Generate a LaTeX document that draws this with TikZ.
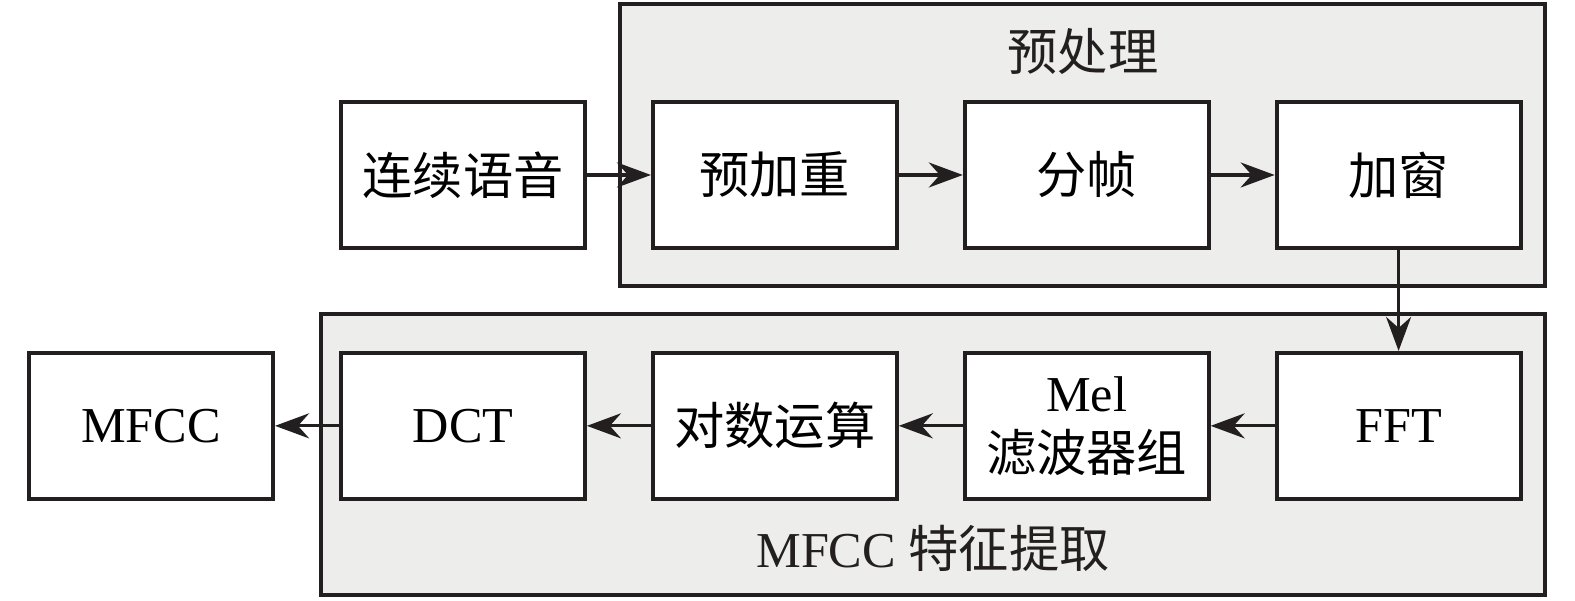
\documentclass[tikz,border=0pt]{standalone}
\usepackage{fontspec}
\usepackage{xcolor}
\setmainfont{Liberation Serif}
\newfontfamily\cjk{Noto Sans CJK SC}
\usetikzlibrary{positioning,arrows.meta}
\definecolor{bggray}{RGB}{237,237,235}
\definecolor{ink}{RGB}{35,31,32}

\begin{document}
\begin{tikzpicture}[
	box/.style={draw=ink, line width=1.1pt, fill=white, minimum width=2.44cm, minimum height=1.46cm, inner sep=0pt, align=center, font=\fontsize{14.3}{17}\selectfont},
	grp/.style={draw=ink, line width=1.1pt, fill=bggray},
	lbl/.style={font=\fontsize{14.3}{17}\selectfont, text=ink},
	arr/.style={draw=ink, -{Stealth[length=3.4mm,width=2.5mm]}, line width=0.9pt},
	node distance=0.64cm
	]
	\useasboundingbox (0,0) rectangle (15.75,6.01);
	% Hai khung nền
	\draw [grp] (6.20,3.15) rectangle (15.45,5.97);
	\draw [grp] (3.21,0.06) rectangle (15.45,2.87);
	\node [lbl] (tdlbl) at (10.83,5.50) {\cjk 预处理};
	\node [lbl] (tzlbl) at (9.33,0.53) {MFCC {\cjk 特征提取}};
	% Hàng trên
	\node [box] (lxyy) at (4.63,4.26) {\cjk 连续语音};
	\node [box, right=of lxyy] (yjz) {\cjk 预加重};
	\node [box, right=of yjz] (fz) {\cjk 分帧};
	\node [box, right=of fz] (jc) {\cjk 加窗};
	% Hàng dưới
	\node [box, below=1.01cm of jc] (fft) {FFT};
	\node [box, left=of fft] (mel) {Mel\\{\cjk 滤波器组}};
	\node [box, left=of mel] (dsys) {\cjk 对数运算};
	\node [box, left=of dsys] (dct) {DCT};
	\node [box, left=of dct] (mfcc) {MFCC};
	% Mũi tên
	\draw [arr] (lxyy) -- (yjz);
	\draw [arr] (yjz) -- (fz);
	\draw [arr] (fz) -- (jc);
	\draw [arr] (jc) -- (fft);
	\draw [arr] (fft) -- (mel);
	\draw [arr] (mel) -- (dsys);
	\draw [arr] (dsys) -- (dct);
	\draw [arr] (dct) -- (mfcc);
\end{tikzpicture}
\end{document}
